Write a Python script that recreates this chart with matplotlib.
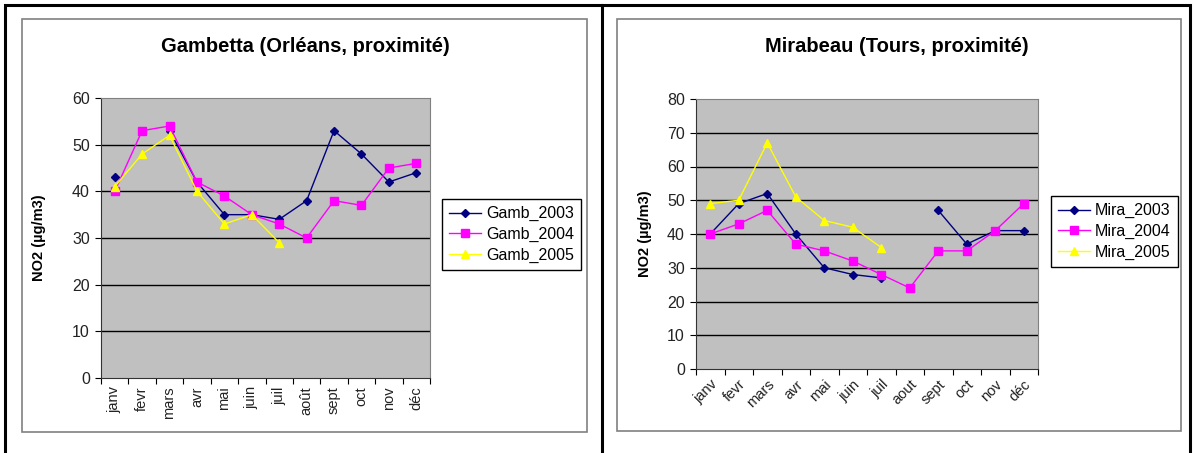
import numpy as np
import matplotlib
matplotlib.use('Agg')
import matplotlib.pyplot as plt
from matplotlib.patches import Rectangle

plt.rcParams['font.family'] = ['Liberation Sans', 'DejaVu Sans']

months = ['janv', 'fevr', 'mars', 'avr', 'mai', 'juin', 'juil',
          'août', 'sept', 'oct', 'nov', 'déc']
months_tours = ['janv', 'fevr', 'mars', 'avr', 'mai', 'juin', 'juil',
                'aout', 'sept', 'oct', 'nov', 'déc']

nan = np.nan
gamb_2003 = [43, nan, 53, 42, 35, 35, 34, 38, 53, 48, 42, 44]
gamb_2004 = [40, 53, 54, 42, 39, 35, 33, 30, 38, 37, 45, 46]
gamb_2005 = [41, 48, 52, 40, 33, 35, 29, nan, nan, nan, nan, nan]

mira_2003 = [40, 49, 52, 40, 30, 28, 27, nan, 47, 37, 41, 41]
mira_2004 = [40, 43, 47, 37, 35, 32, 28, 24, 35, 35, 41, 49]
mira_2005 = [49, 50, 67, 51, 44, 42, 36, nan, nan, nan, nan, nan]

W, H = 1194, 453
fig = plt.figure(figsize=(W / 100, H / 100), dpi=100)


def px_rect(x0, y0, x1, y1):
    return [x0 / W, 1 - y1 / H, (x1 - x0) / W, (y1 - y0) / H]


# outer frame and divider
fig.patches.append(Rectangle((5 / W, -0.05), (1190 - 5) / W, 1.05 - 5 / H,
                             transform=fig.transFigure, fill=False,
                             edgecolor='black', linewidth=2.2))
fig.add_artist(plt.Line2D([602 / W, 602 / W], [0, 1 - 5 / H],
                          transform=fig.transFigure, color='black', linewidth=2.2))

# chart area boxes
for (x0, y0, x1, y1) in [(22, 19, 587, 432), (617, 19, 1181, 431)]:
    r = px_rect(x0, y0, x1, y1)
    fig.patches.append(Rectangle((r[0], r[1]), r[2], r[3],
                                 transform=fig.transFigure, fill=False,
                                 edgecolor='#808080', linewidth=1.2))

series_style = [
    dict(color='#000080', marker='D', markersize=4.5),
    dict(color='#FF00FF', marker='s', markersize=5.5),
    dict(color='#FFFF00', marker='^', markersize=6),
]


def make_chart(rect, title, title_x, data, names, ymax, labels, rot,
               ylabel_x, legend_xy):
    ax = fig.add_axes(px_rect(*rect))
    ax.set_facecolor('#C0C0C0')
    x = np.arange(len(labels))
    lines = []
    for vals, name, st in zip(data, names, series_style):
        ln, = ax.plot(x, vals, linewidth=1, label=name, **st)
        lines.append(ln)
    ax.set_xlim(-0.5, len(labels) - 0.5)
    ax.set_ylim(0, ymax)
    ax.set_yticks(np.arange(0, ymax + 1, 10))
    for yv in range(10, ymax, 10):
        ax.axhline(yv, color='black', linewidth=1, zorder=0.5)
    ax.set_xticks(np.arange(-0.5, len(labels), 1))
    ax.set_xticklabels([])
    ax.set_xticks(x, minor=True)
    if rot == 90:
        ax.set_xticklabels(labels, minor=True, rotation=90, fontsize=10.5,
                           color='#222222')
    else:
        ax.set_xticklabels(labels, minor=True, rotation=45, ha='right',
                           rotation_mode='anchor', fontsize=10.5, color='#222222')
    ax.tick_params(axis='x', which='minor', length=0, pad=6)
    ax.tick_params(axis='x', which='major', length=4, direction='out')
    ax.tick_params(axis='y', length=4, direction='out', labelsize=11.5,
                   labelcolor='#222222', pad=4)
    for s in ['left', 'bottom']:
        ax.spines[s].set_color('#333333')
    for s in ['top', 'right']:
        ax.spines[s].set_color('#808080')
    fig.text(title_x / W, 1 - 47 / H, title, ha='center', va='center',
             fontsize=14.5, fontweight='bold')
    fig.text(ylabel_x / W, 1 - ((rect[1] + rect[3]) / 2) / H, 'NO2 (µg/m3)',
             rotation=90, ha='center', va='center', fontsize=10.5,
             fontweight='bold')
    fig.legend(handles=lines, loc='upper left',
               bbox_to_anchor=(legend_xy[0] / W, 1 - legend_xy[1] / H),
               frameon=True, fancybox=False, edgecolor='black',
               framealpha=1, facecolor='white', fontsize=11.5,
               borderpad=0.45, handlelength=2.0, labelspacing=0.35,
               handletextpad=0.3, borderaxespad=0)
    return ax


make_chart((101, 98, 430, 378), 'Gambetta (Orléans, proximité)', 305,
           [gamb_2003, gamb_2004, gamb_2005],
           ['Gamb_2003', 'Gamb_2004', 'Gamb_2005'], 60, months, 90,
           39, (442, 199))
make_chart((696, 99, 1038, 369), 'Mirabeau (Tours, proximité)', 897,
           [mira_2003, mira_2004, mira_2005],
           ['Mira_2003', 'Mira_2004', 'Mira_2005'], 80, months_tours, 45,
           645, (1051, 196))

fig.savefig('out.png', dpi=100)
